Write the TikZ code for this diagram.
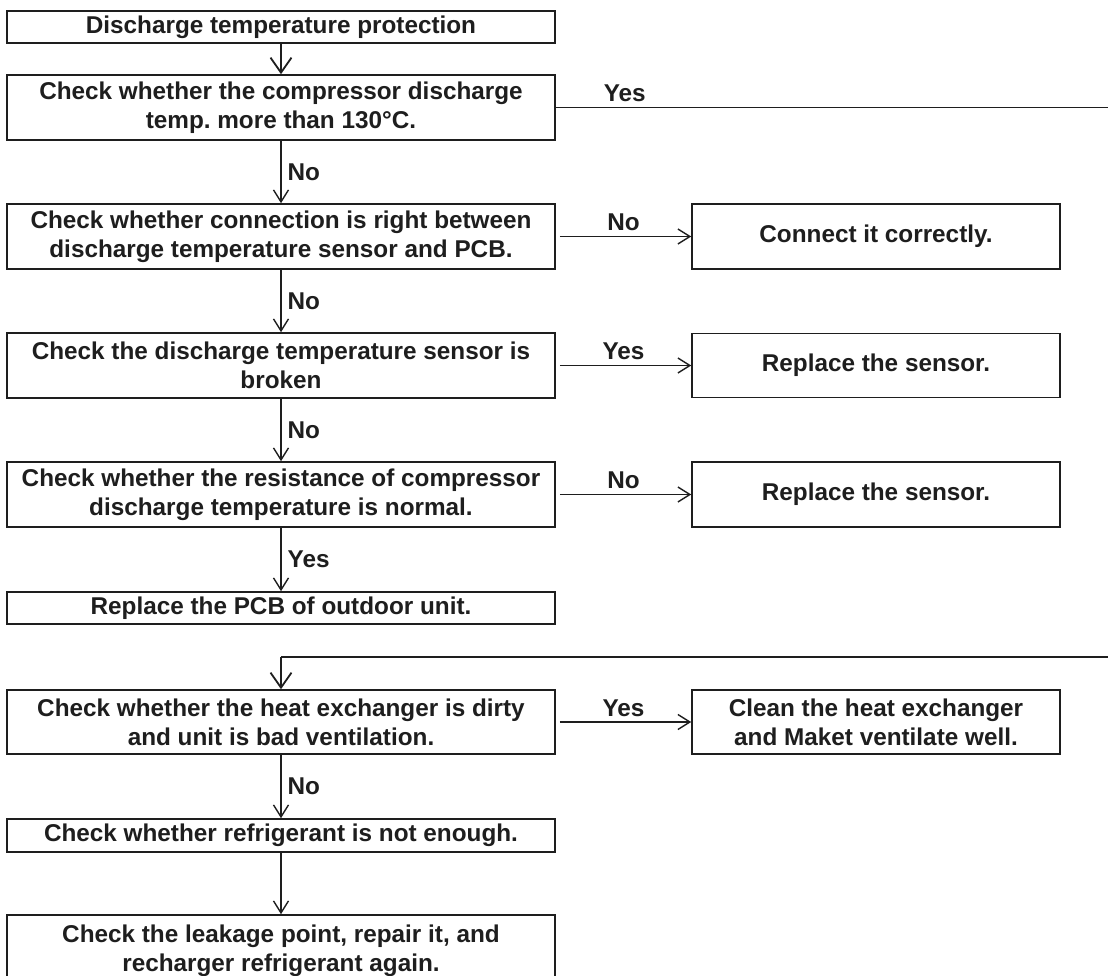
\documentclass[tikz,border=0pt]{standalone}
\usepackage{fontspec}
\setmainfont{Liberation Sans}
\usetikzlibrary{arrows.meta}
\definecolor{ink}{HTML}{1E1E1E}
\frenchspacing
\tikzset{
  txt/.style={font=\fontsize{24.3}{29}\selectfont\bfseries, text=ink},
  lbox/.style={txt, draw=ink, line width=1.6pt, minimum width=548pt, align=center, inner sep=0pt},
  rbox/.style={txt, draw=ink, line width=1.6pt, minimum width=368pt, align=center, inner sep=0pt},
  conn/.style={draw=ink, line width=1.4pt, -{Straight Barb[length=12pt,width=15pt,line width=1.4pt]}},
  bigconn/.style={draw=ink, line width=1.8pt, -{Straight Barb[length=15pt,width=21pt,line width=1.8pt]}},
  plain/.style={draw=ink, line width=1.6pt},
  vlbl/.style={txt, anchor=west, inner sep=0pt, xshift=6pt},
  hlbl/.style={txt, above, inner sep=0pt, yshift=5pt}
}
\begin{document}
\begin{tikzpicture}[x=1pt,y=-1pt]
\path[use as bounding box] (0,0) rectangle (1108,976);
\clip (0,0) rectangle (1108,976);
\fill[white] (0,0) rectangle (1108,976);

% left column
\node[lbox, minimum height=32pt] (b1) at (281,27) {Discharge temperature protection};
\node[lbox, minimum height=65pt] (b2) at (281,107.5) {Check whether the compressor discharge\\temp. more than 130°C.};
\node[lbox, minimum height=65pt] (b3) at (281,236.5) {Check whether connection is right between\\discharge temperature sensor and PCB.};
\node[lbox, minimum height=65pt] (b4) at (281,365.5) {Check the discharge temperature sensor is\\broken};
\node[lbox, minimum height=65pt] (b5) at (281,494.5) {Check whether the resistance of compressor\\discharge temperature is normal.};
\node[lbox, minimum height=32pt] (b6) at (281,608) {Replace the PCB of outdoor unit.};
\node[lbox, minimum height=64pt] (b7) at (281,722) {Check whether the heat exchanger is dirty\\and unit is bad ventilation.};
\node[lbox, minimum height=33pt] (b8) at (281,835.5) {Check whether refrigerant is not enough.};
\node[lbox, minimum height=72pt] (b9) at (281,951) {Check the leakage point, repair it, and\\recharger refrigerant again.};

% right column
\node[rbox, minimum height=65pt] (r3) at (876,236.5) {Connect it correctly.};
\node[rbox, minimum height=64pt] (r4) at (876,365.5) {Replace the sensor.};
\node[rbox, minimum height=65pt] (r5) at (876,494.5) {Replace the sensor.};
\node[rbox, minimum height=64pt] (r7) at (876,722) {Clean the heat exchanger\\and Maket ventilate well.};

% vertical flow
\draw[bigconn] (b1) -- (b2);
\draw[conn] (b2) -- node[vlbl]{No} (b3);
\draw[conn] (b3) -- node[vlbl]{No} (b4);
\draw[conn] (b4) -- node[vlbl]{No} (b5);
\draw[conn] (b5) -- node[vlbl]{Yes} (b6);
\draw[conn] (b7) -- node[vlbl]{No} (b8);
\draw[conn] (b8) -- (b9);

% horizontal branches
\draw[conn, shorten <=4pt] (b3) -- node[hlbl]{No} (r3);
\draw[conn, shorten <=4pt] (b4) -- node[hlbl]{Yes} (r4);
\draw[conn, shorten <=4pt] (b5) -- node[hlbl]{No} (r5);
\draw[conn, shorten <=4pt] (b7) -- node[hlbl]{Yes} (r7);

% Yes loop from the 130 C check to the heat exchanger check
\coordinate (yr) at (1130,107.5);
\coordinate (yb) at (1130,657);
\coordinate (yl) at (281,657);
\draw[plain] (b2.east) -- node[hlbl, pos=0.12]{Yes} (yr) -- (yb) -- (yl);
\draw[bigconn] (yl) -- (b7.north);
\end{tikzpicture}
\end{document}
